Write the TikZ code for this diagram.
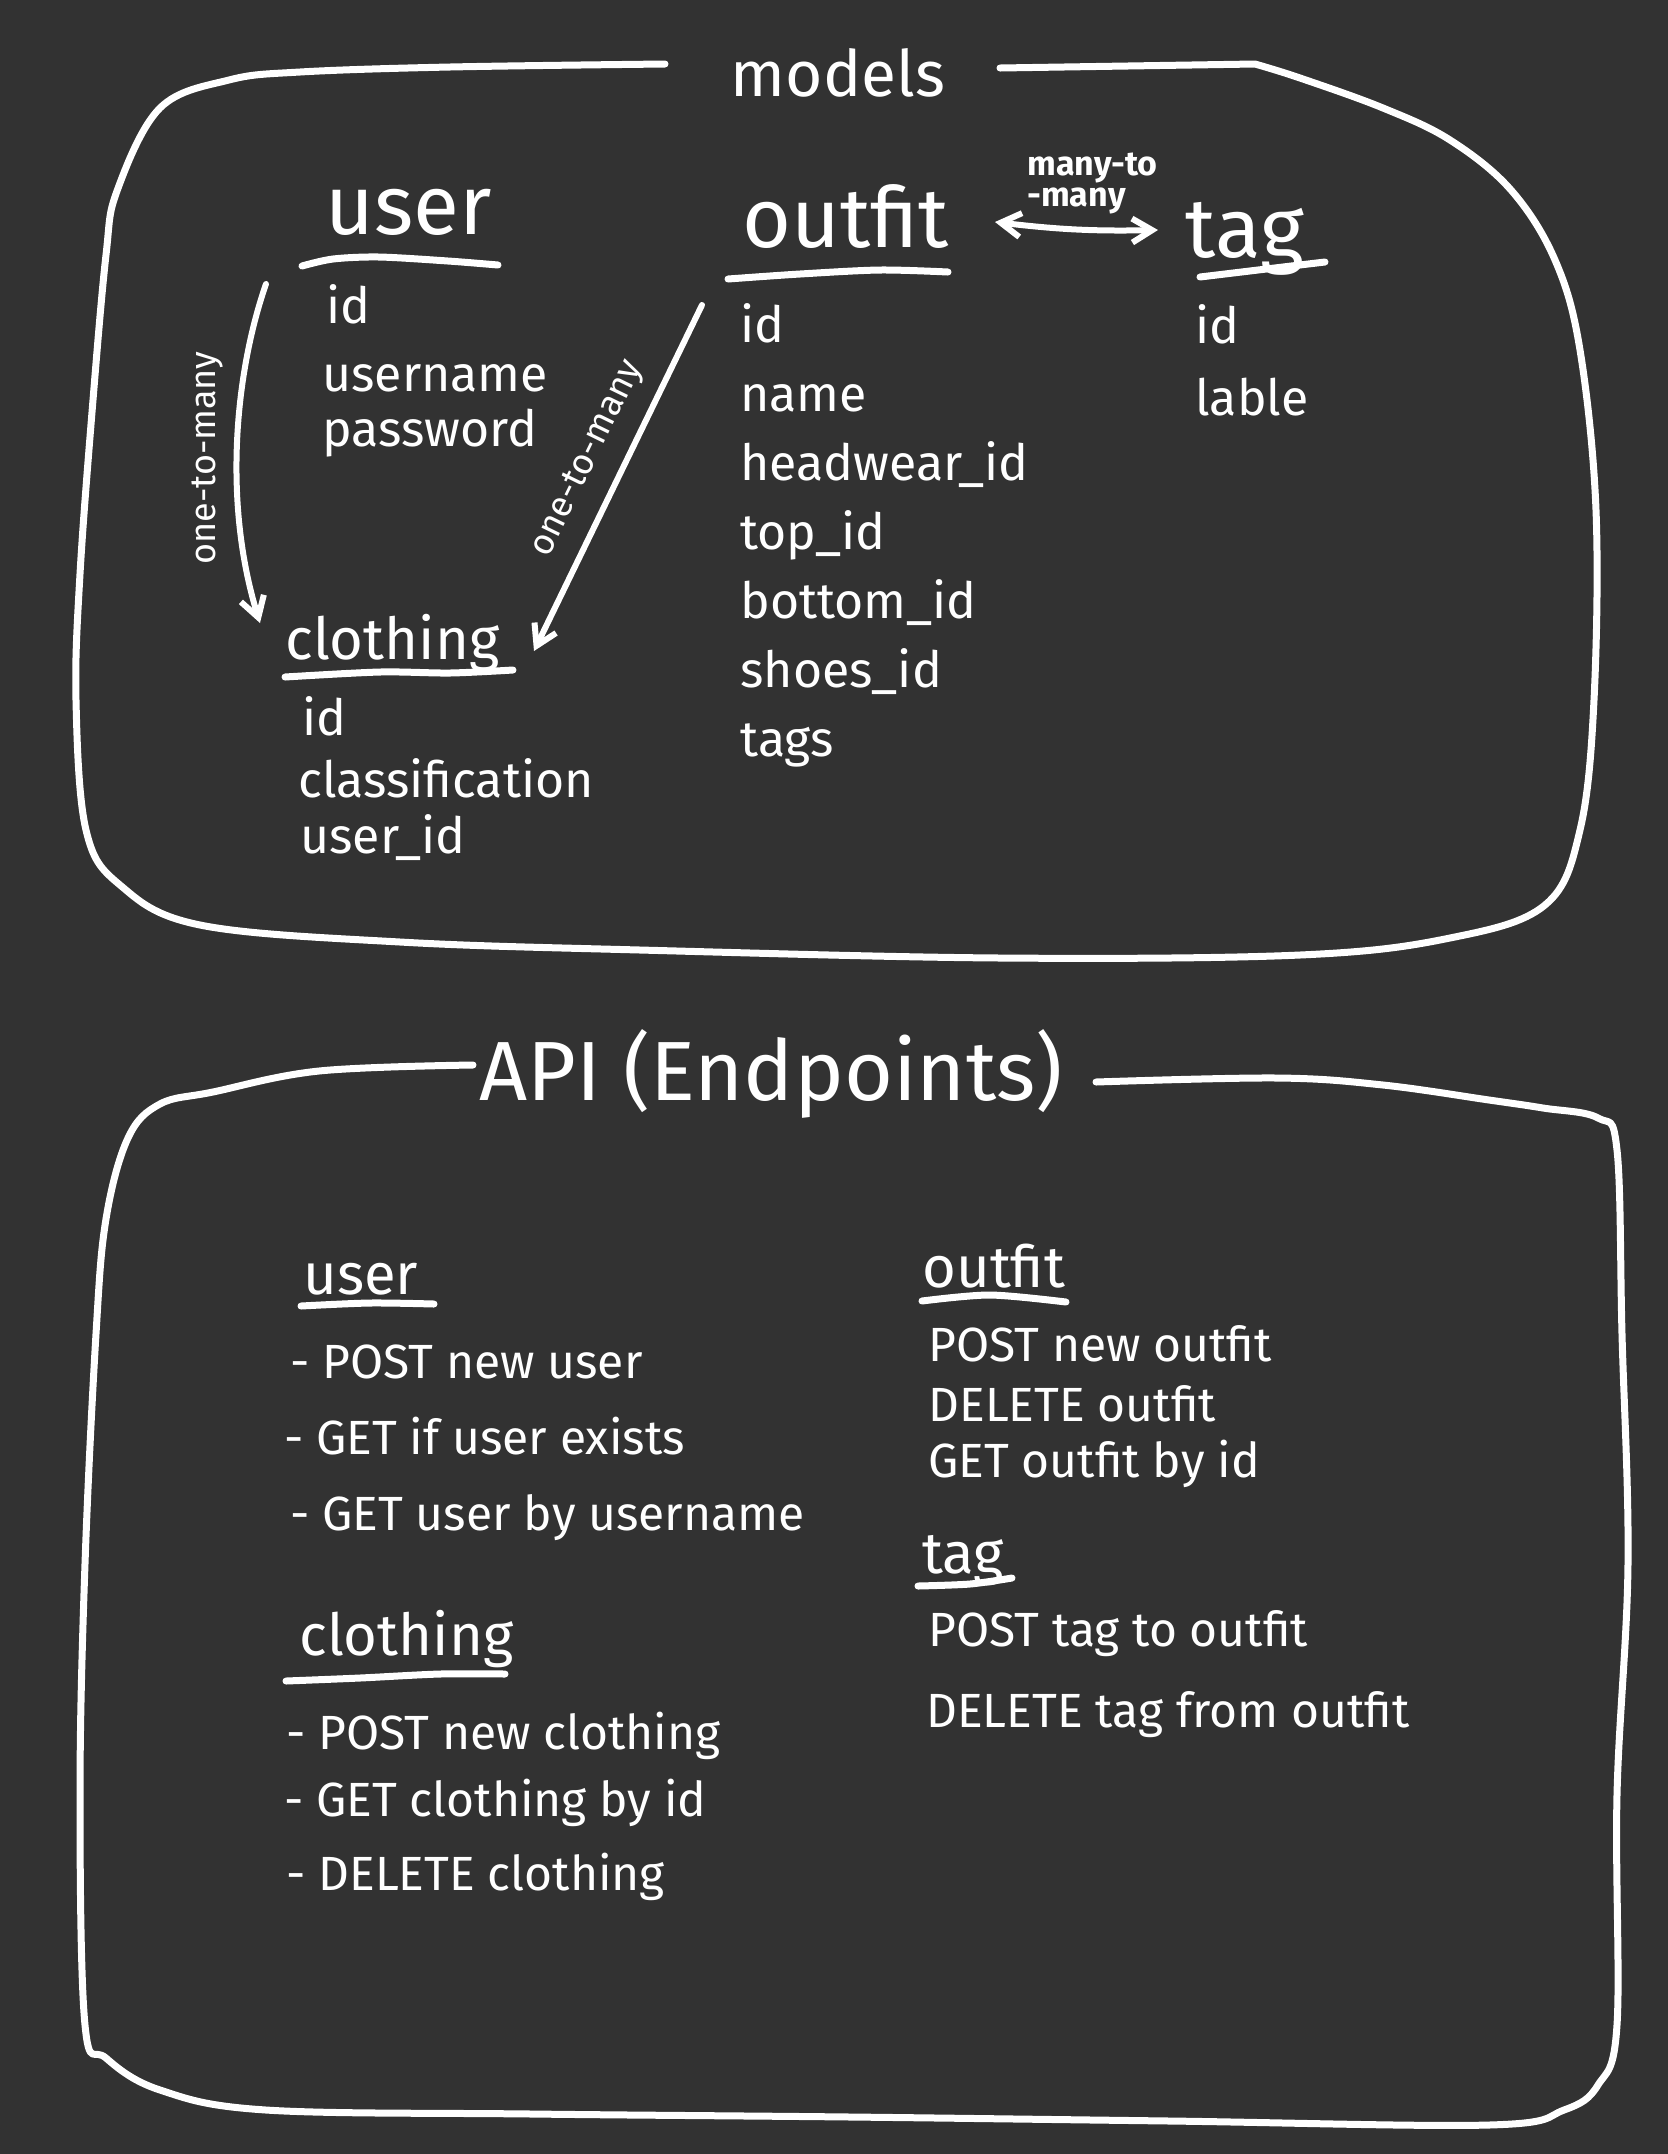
\documentclass[tikz,border=0pt]{standalone}
\usepackage{fontspec}
\setmainfont{Fira Sans}
\usetikzlibrary{arrows.meta}
\definecolor{board}{HTML}{323232}
\def\fieldsep{69}

\begin{document}
\begin{tikzpicture}[
    x=0.5pt, y=-0.5pt,
    ink/.style={
      draw=white, line width=3.5pt, line cap=round, line join=round
    },
    link/.style={
      ink, line width=3pt,
      -{Straight Barb[length=10pt,width=12pt,line width=3pt]}
    },
    field/.style={
      anchor=base west, inner sep=0pt, text=white,
      font=\fontsize{25}{28}\selectfont
    },
    heading/.style={
      field, font=\fontsize{42}{48}\selectfont
    },
    endpoint/.style={
      field, font=\fontsize{24}{28}\selectfont
    },
    relation/.style={
      inner sep=0pt, text=white, font=\fontsize{18}{20}\selectfont
    }
  ]
    \fill[board] (0,0) rectangle (1668,2154);
    \useasboundingbox (0,0) rectangle (1668,2154);

    % models
    \node[text=white, anchor=base, inner sep=0pt,
      font=\fontsize{32}{36}\selectfont] (models) at (838,96) {models};
    \draw[ink] plot[smooth, tension=0.6] coordinates {
      (665,64) (450,67) (300,72) (229,80) (160,108) (117,191) (106,255)
      (93,400) (80,574) (76,700) (86,830) (120,885) (200,925) (400,942)
      (640,950) (1000,958) (1300,955) (1450,938) (1545,905) (1580,830)
      (1594,700) (1596,510) (1580,350) (1555,260) (1511,190) (1450,140)
      (1383,108) (1300,78) (1255,64)} -- (1000,68);

    \node[heading] (user) at (325,234) {user};
    \draw[ink] plot[smooth] coordinates {(302,266) (333,259) (379,257) (448,261) (498,265)};
    \node[field] (userId)   at (326,323) {id};
    \node[field] (userName) at (322,391) {username};
    \node[field] (userPass) at (322,446) {password};

    \node[heading] (outfit) at (742,247) {outfit};
    \draw[ink] plot[smooth] coordinates {(728,279) (800,274) (880,270) (948,272)};
    \foreach \f [count=\i from 0] in {id,name,headwear\_id,top\_id,bottom\_id,shoes\_id,tags}
      \node[field] (outfitF\i) at (740,342+\fieldsep*\i) {\f};

    \node[heading] (tag) at (1185,257) {tag};
    \draw[ink] plot[smooth] coordinates {(1200,277) (1283,267) (1325,262)};
    \node[field] (tagId)    at (1195,343) {id};
    \node[field] (tagLabel) at (1195,415) {lable};

    \node[heading, font=\fontsize{29}{34}\selectfont] (clothing) at (285,659) {clothing};
    \draw[ink] plot[smooth] coordinates {(285,677) (380,672) (450,673) (513,670)};
    \node[field] (clothId)    at (302,735) {id};
    \node[field] (clothClass) at (298,797) {classification};
    \node[field] (clothUser)  at (300,853) {user\_id};

    % relations
    \coordinate (userOut)   at (266,284);
    \coordinate (clothInL)  at (260,623);
    \coordinate (outfitOut) at (702,305);
    \coordinate (clothInR)  at (534,651);
    \coordinate (outfitR)   at (995,222);
    \coordinate (tagL)      at (1158,230);

    \draw[link] (userOut) .. controls (236,370) and (222,500) .. (clothInL);
    \node[relation, rotate=90] at (208,458) {one-to-many};

    \draw[link] (outfitOut) -- (clothInR);
    \node[relation, rotate=64] at (588,459) {one-to-many};

    \draw[link, {Straight Barb[length=10pt,width=12pt,line width=3pt]}-{Straight Barb[length=10pt,width=12pt,line width=3pt]}]
      (outfitR) to[bend right=4] (tagL);
    \node[relation, font=\fontsize{17}{20}\selectfont\bfseries, anchor=base west] (manyA) at (1027,175) {many-to};
    \node[relation, font=\fontsize{17}{20}\selectfont\bfseries, anchor=base west] (manyB) at (1027,206) {-many};

    % API (Endpoints)
    \node[text=white, anchor=base, inner sep=0pt,
      font=\fontsize{42}{48}\selectfont] (api) at (771,1100) {API (Endpoints)};
    \draw[ink] plot[smooth, tension=0.6] coordinates {
      (473,1065) (319,1071) (213,1092) (160,1104) (128,1138) (106,1219)
      (96,1334) (85,1564) (80,1795) (85,2025) (106,2058) (160,2090)
      (266,2110) (532,2114) (851,2117) (1170,2121) (1489,2125) (1564,2110)
      (1598,2085) (1617,2025) (1617,1795) (1628,1564) (1622,1334)
      (1617,1150) (1598,1118) (1543,1108) (1489,1100) (1383,1085)
      (1277,1078) (1096,1082)};

    \node[endpoint, font=\fontsize{29}{34}\selectfont] (apiUser) at (303,1294) {user};
    \draw[ink] plot[smooth] coordinates {(301,1306) (370,1303) (434,1304)};
    \node[endpoint] (userPost)   at (290,1378) {- POST new user};
    \node[endpoint] (userExists) at (284,1454) {- GET if user exists};
    \node[endpoint] (userGet)    at (290,1530) {- GET user by username};

    \node[endpoint, font=\fontsize{29}{34}\selectfont] (apiClothing) at (299,1655) {clothing};
    \draw[ink] plot[smooth] coordinates {(286,1681) (360,1678) (440,1674) (505,1674)};
    \node[endpoint] (clothPost) at (286,1749) {- POST new clothing};
    \node[endpoint] (clothGet)  at (284,1816) {- GET clothing by id};
    \node[endpoint] (clothDel)  at (286,1890) {- DELETE clothing};

    \node[endpoint, font=\fontsize{29}{34}\selectfont] (apiOutfit) at (922,1287) {outfit};
    \draw[ink] plot[smooth] coordinates {(922,1301) (990,1295) (1066,1302)};
    \node[endpoint] (outfitPost) at (928,1361) {POST new outfit};
    \node[endpoint] (outfitDel)  at (928,1421) {DELETE outfit};
    \node[endpoint] (outfitGet)  at (928,1477) {GET outfit by id};

    \node[endpoint, font=\fontsize{29}{34}\selectfont] (apiTag) at (922,1573) {tag};
    \draw[ink] plot[smooth] coordinates {(918,1586) (970,1584) (1012,1578)};
    \node[endpoint] (tagPost) at (928,1646) {POST tag to outfit};
    \node[endpoint] (tagDel)  at (926,1727) {DELETE tag from outfit};
  \end{tikzpicture}
\end{document}
